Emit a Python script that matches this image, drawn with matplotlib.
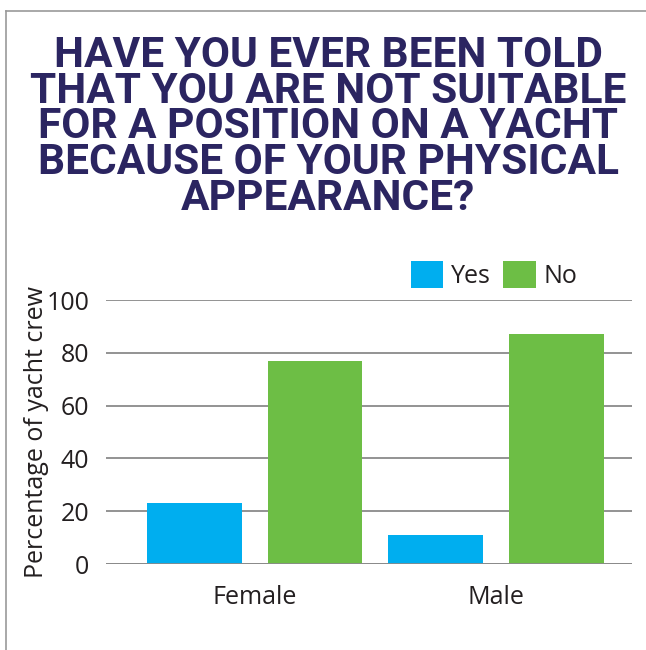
import matplotlib.pyplot as plt
import numpy as np
from matplotlib.lines import Line2D

# Survey answers, percent of yacht crew
groups = ['Female', 'Male']
answers = ['Yes', 'No']
yes_pct = [23, 11]
no_pct = [77, 87]
yticks = [0, 20, 40, 60, 80, 100]

title = ('HAVE YOU EVER BEEN TOLD\nTHAT YOU ARE NOT SUITABLE\n'
         'FOR A POSITION ON A YACHT\nBECAUSE OF YOUR PHYSICAL\nAPPEARANCE?')

blue = '#00aeef'
green = '#6dbe45'
navy = '#2b2561'
text_col = '#231f20'
grid_col = '#8a8a8a'

fig = plt.figure(figsize=(6.46, 6.5), dpi=100)
ax = fig.add_axes([106 / 646, 86 / 650, 526 / 646, 264 / 650])

# four bars, evenly spaced: Yes/No for each group
pos = np.arange(len(groups) * 2)
width = 0.785
ax.bar(pos[0::2], yes_pct, width, color=blue, label=answers[0], zorder=3)
ax.bar(pos[1::2], no_pct, width, color=green, label=answers[1], zorder=3)

ax.set_xlim(-0.731, 3.624)
ax.set_ylim(0, 100)
ax.set_yticks(yticks)
ax.set_xticks([0.5, 2.5])
ax.set_xticklabels(groups)
ax.grid(axis='y', color=grid_col, linewidth=1.3, zorder=1)
ax.axhline(0, color=grid_col, linewidth=2, zorder=4)
for s in ax.spines.values():
    s.set_visible(False)
ax.tick_params(length=0, labelsize=18, labelcolor=text_col,
               labelfontfamily='Open Sans')
ax.tick_params(axis='y', pad=12)
ax.tick_params(axis='x', pad=15)
ax.set_ylabel('Percentage of yacht crew', fontsize=18, color=text_col,
              family='Open Sans', labelpad=-2)

fig.legend(loc='center', bbox_to_anchor=(494 / 646, 375 / 650), ncol=2,
           frameon=False, prop={'family': 'Open Sans', 'size': 18},
           handlelength=1.3, handleheight=1.3, handletextpad=0.3,
           columnspacing=0.5, borderpad=0, labelcolor=text_col)

fig.text(328 / 646, 1 - 127 / 650, title, ha='center', va='center',
         fontsize=30.5, fontweight='bold', family='Roboto', color=navy,
         linespacing=0.84)

# thin frame around the panel
fig.add_artist(Line2D([6 / 646, 6 / 646], [0, 1 - 11 / 650],
                      transform=fig.transFigure, color='#999999', lw=1.2))
fig.add_artist(Line2D([6 / 646, 1], [1 - 11 / 650, 1 - 11 / 650],
                      transform=fig.transFigure, color='#999999', lw=1.2))

fig.savefig('out.png', dpi=100)
